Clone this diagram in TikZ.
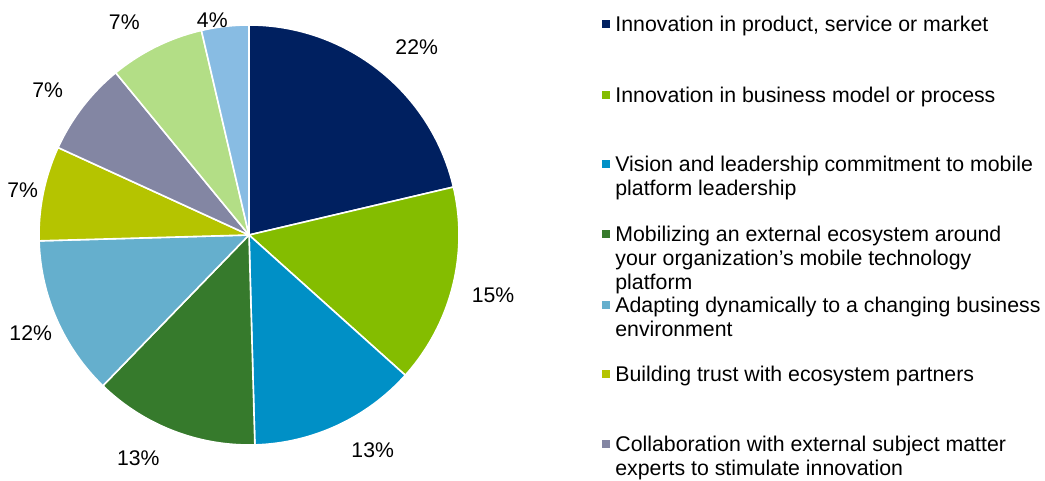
\documentclass[tikz,border=0pt]{standalone}
\usepackage{fontspec}
\setmainfont{Liberation Sans}

\definecolor{cnavy}{HTML}{002060}
\definecolor{clime}{HTML}{84BD00}
\definecolor{cblue}{HTML}{0090C6}
\definecolor{cdkgreen}{HTML}{367A2C}
\definecolor{cltblue}{HTML}{65AFCD}
\definecolor{cyellow}{HTML}{B5C400}
\definecolor{cgray}{HTML}{8386A3}
\definecolor{cltgreen}{HTML}{B3DE86}
\definecolor{cpale}{HTML}{88BCE3}

\begin{document}
\begin{tikzpicture}[x=0.5pt, y=0.5pt]
    \tikzset{
      slice/.style={draw=white, line width=0.8pt, line join=round},
      pctlabel/.style={inner sep=0pt, font=\fontsize{10.6}{12}\selectfont},
      legendbox/.style={rectangle, minimum size=4pt, inner sep=0pt},
      legendtext/.style={anchor=base west, align=left, inner sep=0pt, font=\fontsize{10.65}{12}\selectfont}
    }
    \useasboundingbox (0,0) rectangle (1045,481);
    \coordinate (ctr) at (249,246);

    % slices, clockwise from the top
    \foreach \from/\to/\col in {90/13.2/cnavy, 13.2/-41.9/clime, -41.9/-88.4/cblue,
        -88.4/-134.1/cdkgreen, -134.1/-178.4/cltblue, -178.4/-204.6/cyellow,
        -204.6/-230.6/cgray, -230.6/-256.9/cltgreen, -256.9/-270/cpale}
      \filldraw[slice, fill=\col] (ctr) -- ++(\from:210) arc[start angle=\from, end angle=\to, radius=210] -- cycle;

    \draw (416.7,434.3) node (p1) [pctlabel] {22\%};
    \draw (493,186) node (p2) [pctlabel] {15\%};
    \draw (372.7,30.3) node (p3) [pctlabel] {13\%};
    \draw (138.3,23) node (p4) [pctlabel] {13\%};
    \draw (30.7,148) node (p5) [pctlabel] {12\%};
    \draw (22.7,291) node (p6) [pctlabel] {7\%};
    \draw (47.7,391) node (p7) [pctlabel] {7\%};
    \draw (124.3,458.3) node (p8) [pctlabel] {7\%};
    \draw (212.3,461) node (p9) [pctlabel] {4\%};

    % legend (base of a text node is its last line)
    \draw (606,456.5) node (k1) [legendbox, fill=cnavy] {};
    \draw (606,385.5) node (k2) [legendbox, fill=clime] {};
    \draw (606,316.5) node (k3) [legendbox, fill=cblue] {};
    \draw (606,246.5) node (k4) [legendbox, fill=cdkgreen] {};
    \draw (606,175.5) node (k5) [legendbox, fill=cltblue] {};
    \draw (606,106.5) node (k6) [legendbox, fill=cyellow] {};
    \draw (606,36.5) node (k7) [legendbox, fill=cgray] {};
    \draw (615,449) node (l1) [legendtext] {Innovation in product, service or market};
    \draw (615,378) node (l2) [legendtext] {Innovation in business model or process};
    \draw (615,285) node (l3) [legendtext] {Vision and leadership commitment to mobile\\platform leadership};
    \draw (615,191) node (l4) [legendtext] {Mobilizing an external ecosystem around\\your organization’s mobile technology\\platform};
    \draw (615,144) node (l5) [legendtext] {Adapting dynamically to a changing business\\environment};
    \draw (615,99) node (l6) [legendtext] {Building trust with ecosystem partners};
    \draw (615,5) node (l7) [legendtext] {Collaboration with external subject matter\\experts to stimulate innovation};

  \end{tikzpicture}
\end{document}
